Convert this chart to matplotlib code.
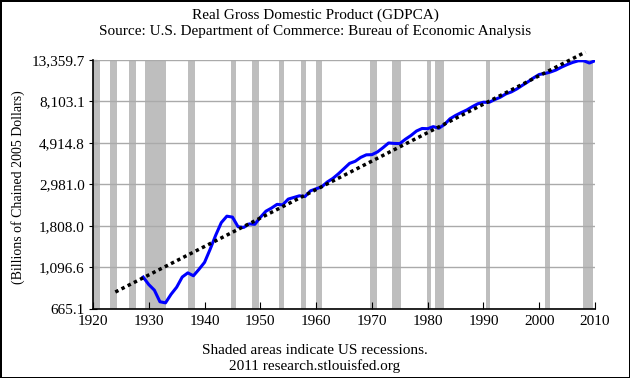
import matplotlib
matplotlib.use("Agg")
import matplotlib.pyplot as plt
import matplotlib.ticker as mtick
import numpy as np

# Real GDP, billions of chained 2005 dollars (annual)
years = list(range(1929, 2011))
gdp = [
    977.0, 892.8, 834.9, 725.8, 716.4, 794.4, 865.0, 977.9, 1028.0, 992.6,
    1072.8, 1166.9, 1366.1, 1618.2, 1883.1, 2035.2, 2012.4, 1792.2, 1776.1, 1854.2,
    1844.7, 2006.0, 2161.1, 2243.9, 2347.2, 2332.4, 2500.3, 2549.7, 2601.1, 2577.6,
    2762.5, 2830.9, 2896.9, 3072.4, 3206.7, 3392.3, 3610.1, 3845.3, 3942.5, 4133.4,
    4261.8, 4269.9, 4413.3, 4647.7, 4917.0, 4889.9, 4879.5, 5141.3, 5377.7, 5677.6,
    5855.0, 5839.0, 5987.2, 5870.9, 6136.2, 6577.1, 6849.3, 7086.5, 7313.3, 7613.9,
    7885.9, 8033.9, 8015.1, 8287.1, 8523.4, 8870.7, 9093.7, 9433.9, 9854.3, 10283.5,
    10779.8, 11226.0, 11347.2, 11553.0, 11840.7, 12263.8, 12638.4, 12976.2, 13228.9, 13228.8,
    12880.6, 13248.2,
]

# trend line endpoints (straight on log scale)
trend_years = [1924.0, 2008.3]
trend_values = [816.0, 14700.0]

# recession periods (start, end) in fractional years
recessions = [
    (1920.0, 1921.3), (1923.0, 1924.3), (1926.5, 1927.7), (1929.3, 1933.1),
    (1937.1, 1938.3), (1944.7, 1945.6), (1948.5, 1949.7), (1953.3, 1954.2),
    (1957.3, 1958.2), (1960.0, 1961.0), (1969.6, 1970.9), (1973.6, 1975.2),
    (1979.9, 1980.6), (1981.3, 1982.9), (1990.4, 1991.1), (2001.0, 2001.9),
    (2007.8, 2009.6),
]

ytick_vals = [np.exp(v) for v in [6.5, 7.0, 7.5, 8.0, 8.5, 9.0, 9.5]]
xtick_vals = list(range(1920, 2011, 10))

plt.rcParams["font.family"] = ["Liberation Serif", "DejaVu Serif"]

fig = plt.figure(figsize=(6.3, 3.78), dpi=100)
fig.patch.set_facecolor("white")
fig.patch.set_edgecolor("black")
fig.patch.set_linewidth(2)
ax = fig.add_axes([93 / 630, 1 - 309 / 378, 502 / 630, 249 / 378])

for s, e in recessions:
    ax.axvspan(s, e, color="#BEBEBE", lw=0, zorder=1)

for v in ytick_vals:
    ax.axhline(v, color="#AAAAAA", lw=1, zorder=2)

ax.plot(years, gdp, color="#0000FF", lw=2.2, zorder=3)
ax.plot(trend_years, trend_values, color="black", lw=2.5,
        linestyle=(0, (1, 1.0)), zorder=4, clip_on=False)

ax.set_yscale("log")
ax.set_ylim(ytick_vals[0], ytick_vals[-1])
ax.set_xlim(1920, 2010)
ax.yaxis.set_major_locator(mtick.FixedLocator(ytick_vals))
ax.yaxis.set_minor_locator(mtick.NullLocator())
ax.yaxis.set_major_formatter(mtick.FuncFormatter(lambda x, _: f"{x:,.1f}"))
ax.set_xticks(xtick_vals)

for side in ["top", "right"]:
    ax.spines[side].set_visible(False)
for side in ["left", "bottom"]:
    ax.spines[side].set_linewidth(1.2)

ax.tick_params(axis="x", direction="in", length=5, labelsize=11, pad=4)
ax.tick_params(axis="y", direction="inout", length=6, labelsize=11, pad=3)
ax.set_ylabel("(Billions of Chained 2005 Dollars)", fontsize=10)
ax.yaxis.set_label_coords(-0.135, 0.49)

fig.text(0.5, 1 - 15 / 378, "Real Gross Domestic Product (GDPCA)",
         ha="center", va="center", fontsize=11)
fig.text(0.5, 1 - 31 / 378, "Source: U.S. Department of Commerce: Bureau of Economic Analysis",
         ha="center", va="center", fontsize=11)
fig.text(0.5, 1 - 351 / 378, "Shaded areas indicate US recessions.",
         ha="center", va="center", fontsize=11)
fig.text(0.5, 1 - 366 / 378, "2011 research.stlouisfed.org",
         ha="center", va="center", fontsize=11)

fig.savefig("out.png", dpi=100)
